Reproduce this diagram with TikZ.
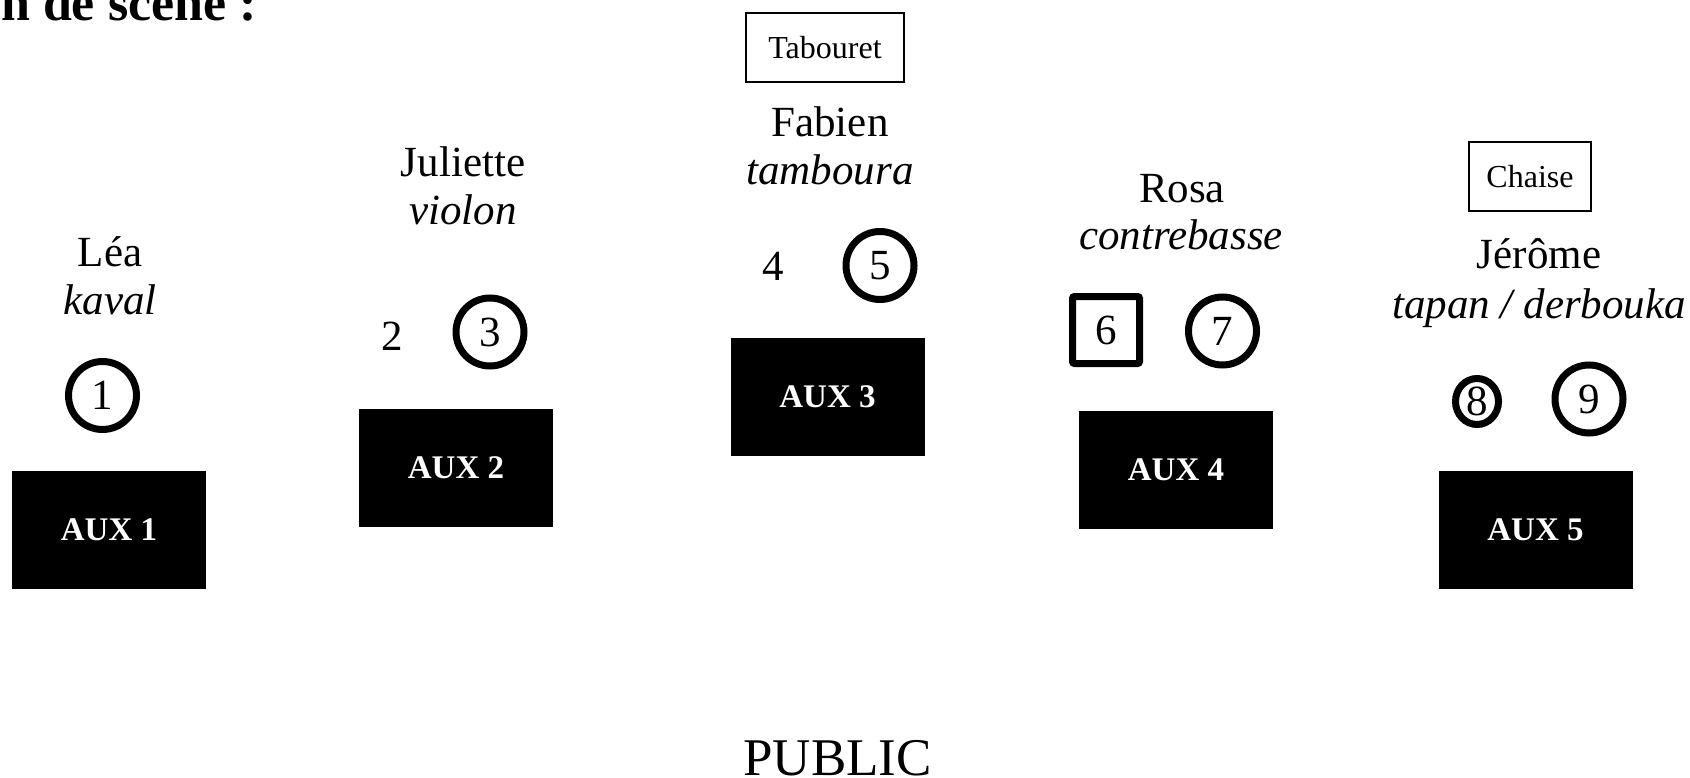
\documentclass[tikz,border=0pt]{standalone}
\usepackage{fontspec}
\setmainfont{Liberation Serif}
\usetikzlibrary{shapes.geometric}

\begin{document}
\begin{tikzpicture}[x=1pt,y=-1pt,
  artist/.style={font=\fontsize{43}{50}\selectfont, anchor=base, inner sep=0},
  instrument/.style={artist, font=\fontsize{43}{50}\selectfont\itshape},
  plainnum/.style={artist},
  micro/.style={circle, draw, line width=7, minimum size=68, inner sep=0,
    font=\fontsize{43}{50}\selectfont},
  microsq/.style={micro, rectangle, minimum size=67, rounded corners=2},
  aux/.style={fill=black, text=white, minimum width=194, minimum height=118,
    inner sep=0, font=\bfseries\fontsize{33}{40}\selectfont},
  prop/.style={draw, line width=1.2, minimum height=69, inner sep=0,
    font=\fontsize{32}{38}\selectfont}]
  \useasboundingbox (0,0) rectangle (1690,778);

  % Titre
  \node[anchor=base east, inner sep=0, font=\bfseries\fontsize{52}{60}\selectfont]
    (titre) at (257,20.5) {n de scène :};

  % Léa
  \node[artist] (lea) at (110,267) {Léa};
  \node[instrument] (leaInstr) at (110,314) {kaval};
  \node[micro] (m1) at (102.5,395.5) {1};
  \node[aux] (aux1) at (109,530) {AUX 1};

  % Juliette
  \node[artist] (juliette) at (463,177) {Juliette};
  \node[instrument] (julietteInstr) at (463,225) {violon};
  \node[plainnum] (m2) at (392,350) {2};
  \node[micro] (m3) at (490,332) {3};
  \node[aux] (aux2) at (456,467.5) {AUX 2};

  % Fabien
  \node[prop, minimum width=158] (tabouret) at (825,47.5) {Tabouret};
  \node[artist] (fabien) at (830,137) {Fabien};
  \node[instrument] (fabienInstr) at (830,185) {tamboura};
  \node[plainnum] (m4) at (773,280) {4};
  \node[micro] (m5) at (880,265.5) {5};
  \node[aux] (aux3) at (827.5,397) {AUX 3};

  % Rosa
  \node[artist] (rosa) at (1182,203) {Rosa};
  \node[instrument] (rosaInstr) at (1181,250) {contrebasse};
  \node[microsq] (m6) at (1106,330) {6};
  \node[micro] (m7) at (1222.5,331) {7};
  \node[aux] (aux4) at (1176,469.5) {AUX 4};

  % Jérôme
  \node[prop, minimum width=122] (chaise) at (1530,176.5) {Chaise};
  \node[artist] (jerome) at (1539,269) {Jérôme};
  \node[instrument] (jeromeInstr) at (1539,318) {tapan / derbouka};
  \node[micro, ellipse, minimum width=43, minimum height=46] (m8) at (1477,401.5) {8};
  \node[micro] (m9) at (1589,399) {9};
  \node[aux] (aux5) at (1535.5,530) {AUX 5};

  % Public
  \node[artist, font=\fontsize{53}{60}\selectfont] (public) at (837.5,775) {PUBLIC};
\end{tikzpicture}
\end{document}
